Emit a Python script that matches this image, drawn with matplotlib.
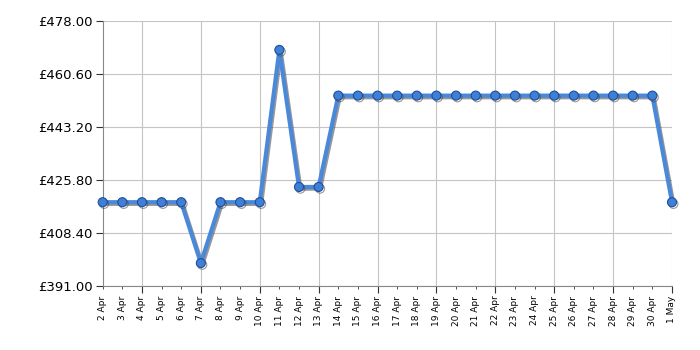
import matplotlib
matplotlib.use("Agg")
import matplotlib.pyplot as plt
import matplotlib.patheffects as pe
from matplotlib.ticker import FixedLocator, FuncFormatter

dates = ["2 Apr", "3 Apr", "4 Apr", "5 Apr", "6 Apr", "7 Apr", "8 Apr", "9 Apr",
         "10 Apr", "11 Apr", "12 Apr", "13 Apr", "14 Apr", "15 Apr", "16 Apr",
         "17 Apr", "18 Apr", "19 Apr", "20 Apr", "21 Apr", "22 Apr", "23 Apr",
         "24 Apr", "25 Apr", "26 Apr", "27 Apr", "28 Apr", "29 Apr", "30 Apr", "1 May"]
prices = [418.5, 418.5, 418.5, 418.5, 418.5, 398.5, 418.5, 418.5, 418.5, 468.5,
          423.5, 423.5, 453.5, 453.5, 453.5, 453.5, 453.5, 453.5, 453.5, 453.5,
          453.5, 453.5, 453.5, 453.5, 453.5, 453.5, 453.5, 453.5, 453.5, 418.5]
y_ticks = [391.0, 408.4, 425.8, 443.2, 460.6, 478.0]

fig = plt.figure(figsize=(7, 3.5), dpi=100)
ax = fig.add_axes([0.1467, 0.183, 0.8133, 0.757])

x = list(range(len(dates)))
ax.plot(x, prices, color="#4a88da", linewidth=3, marker="o", markersize=6.5,
        markerfacecolor="#3f7fd6", markeredgecolor="#1d4f9a", markeredgewidth=0.8,
        path_effects=[pe.SimpleLineShadow(offset=(1, -1.2), shadow_color="#444444", alpha=0.55),
                      pe.Normal()], zorder=3, clip_on=False)

ax.set_xlim(0, len(dates) - 1)
ax.set_ylim(y_ticks[0], y_ticks[-1])
ax.set_yticks(y_ticks)
ax.yaxis.set_major_formatter(FuncFormatter(lambda v, _: f"£{v:.2f}"))

# longer ticks + gridlines every third day, short ticks elsewhere
major = [i for i in x if i % 3 == 2]
minor = [i for i in x if i % 3 != 2]
ax.xaxis.set_major_locator(FixedLocator(major))
ax.xaxis.set_minor_locator(FixedLocator(minor))
ax.set_xticklabels([dates[i] for i in major], rotation=90, fontsize=6.5)
ax.set_xticklabels([dates[i] for i in minor], rotation=90, fontsize=6.5, minor=True)
ax.tick_params(axis="x", which="major", length=5, color="#333333", pad=2)
ax.tick_params(axis="x", which="minor", length=2, color="#333333", pad=5)
ax.tick_params(axis="y", length=5, color="#333333", labelsize=9.5, pad=2)

ax.grid(True, which="major", color="#c4c4c4", linewidth=0.8)
for s in ["top", "right"]:
    ax.spines[s].set_visible(False)
for s in ["left", "bottom"]:
    ax.spines[s].set_color("#888888")

fig.savefig("out.png", dpi=100)
